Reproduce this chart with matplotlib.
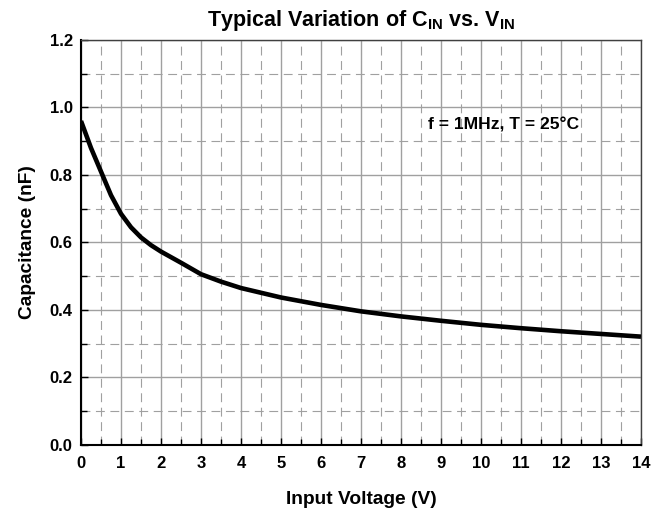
"""Typical variation of input capacitance vs. input voltage."""

import matplotlib

matplotlib.use("Agg")
import matplotlib.pyplot as plt
from matplotlib.ticker import FormatStrFormatter, MultipleLocator

plt.rcParams["font.family"] = ["Liberation Sans", "DejaVu Sans"]
plt.rcParams["font.weight"] = "bold"
plt.rcParams["mathtext.fontset"] = "custom"
plt.rcParams["mathtext.rm"] = "Liberation Sans:bold"
plt.rcParams["mathtext.bf"] = "Liberation Sans:bold"

# values
input_voltage = [0.0, 0.25, 0.5, 0.75, 1.0, 1.25, 1.5, 1.75, 2.0, 2.5, 3.0, 3.5, 4.0,
                 5.0, 6.0, 7.0, 8.0, 9.0, 10.0, 11.0, 12.0, 13.0, 14.0]
capacitance_nf = [0.96, 0.88, 0.81, 0.74, 0.685, 0.645, 0.615, 0.592, 0.573, 0.54,
                  0.506, 0.484, 0.465, 0.437, 0.415, 0.396, 0.381, 0.368, 0.356,
                  0.346, 0.337, 0.329, 0.321]

x_ticks = list(range(0, 15))
y_ticks = [0.0, 0.2, 0.4, 0.6, 0.8, 1.0, 1.2]

fig = plt.figure(figsize=(6.7, 5.12), dpi=100)
ax = fig.add_axes([0.1209, 0.1309, 0.8358, 0.791])

ax.plot(input_voltage, capacitance_nf, color="black", linewidth=3.3,
        solid_capstyle="butt", solid_joinstyle="round", zorder=3)

ax.set_xlim(0, 14)
ax.set_ylim(0, 1.2)
ax.set_xticks(x_ticks)
ax.set_yticks(y_ticks)
ax.xaxis.set_minor_locator(MultipleLocator(0.5))
ax.yaxis.set_minor_locator(MultipleLocator(0.1))
ax.yaxis.set_major_formatter(FormatStrFormatter("%.1f"))

ax.grid(which="major", color="#a0a0a0", linewidth=1.0, linestyle="-")
ax.grid(which="minor", color="#a0a0a0", linewidth=0.8, linestyle=(0, (8, 5)))
ax.set_axisbelow(True)

ax.tick_params(which="both", direction="in", top=False, right=False,
               labelsize=12, width=1, color="black")
ax.tick_params(which="major", length=5)
ax.tick_params(axis="x", which="major", pad=8)
ax.tick_params(axis="y", which="major", pad=6)
ax.tick_params(which="minor", length=4)
for label in ax.get_xticklabels() + ax.get_yticklabels():
    label.set_fontweight("bold")

for side in ["left", "bottom"]:
    ax.spines[side].set_linewidth(1.5)
for side in ["top", "right"]:
    ax.spines[side].set_color("#404040")
    ax.spines[side].set_linewidth(1.0)

ax.set_xlabel("Input Voltage (V)", fontsize=13.75, fontweight="bold", labelpad=14)
ax.set_ylabel("Capacitance (nF)", fontsize=13.75, fontweight="bold", labelpad=10)
ax.set_title(r"Typical Variation of C$_{\mathrm{IN}}$ vs. V$_{\mathrm{IN}}$",
             fontsize=15.5, fontweight="bold", pad=10)

ax.text(10.57, 0.948, "f = 1MHz, T = 25°C", ha="center", va="center",
        fontsize=12.6, fontweight="bold")

fig.savefig("out.png", dpi=100)
